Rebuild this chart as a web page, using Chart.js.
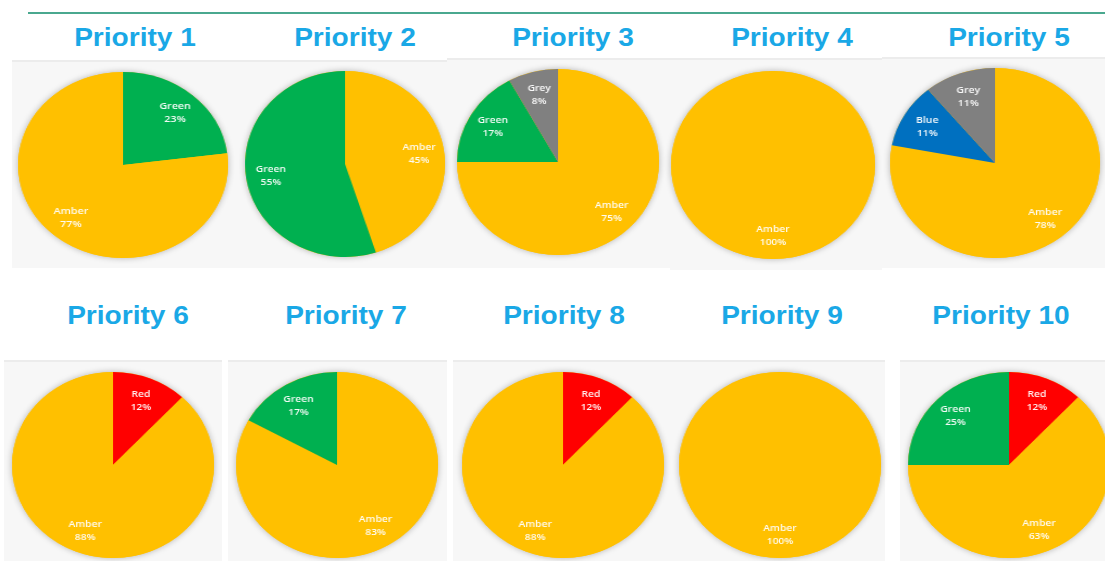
<!DOCTYPE html>
<html>
<head>
<meta charset="utf-8">
<script src="https://cdn.jsdelivr.net/npm/chart.js@4.4.0/dist/chart.umd.min.js"></script>
<style>
    body { margin: 0; background: #ffffff; width: 1105px; height: 561px; overflow: hidden; position: relative; font-family: 'Liberation Sans', Arial, sans-serif; }
    .topLine { position: absolute; left: 28px; top: 12px; width: 1077px; height: 2px; background: #4aa88f; }
    .panel { position: absolute; background: #f7f7f7; border-top: 2px solid #ececec; box-sizing: border-box; }
    .title { position: absolute; width: 200px; margin-left: -100px; text-align: center; color: #1aa8e6; font-weight: bold; font-size: 26px; line-height: 30px; transform: scaleX(1.08); }
    .pieBox { position: absolute; }
</style>
</head>
<body>
<div class="topLine"></div>
<div id="page"></div>

<script>
// chart data
var priorityTitles = ['Priority 1', 'Priority 2', 'Priority 3', 'Priority 4', 'Priority 5',
                      'Priority 6', 'Priority 7', 'Priority 8', 'Priority 9', 'Priority 10'];

var sliceNames = [
    ['Green', 'Amber'],
    ['Amber', 'Green'],
    ['Amber', 'Green', 'Grey'],
    ['Amber'],
    ['Amber', 'Blue', 'Grey'],
    ['Red', 'Amber'],
    ['Amber', 'Green'],
    ['Red', 'Amber'],
    ['Amber'],
    ['Red', 'Amber', 'Green']
];

var sliceValues = [
    [23, 77],
    [45, 55],
    [75, 17, 8],
    [100],
    [78, 11, 11],
    [12, 88],
    [83, 17],
    [12, 88],
    [100],
    [12, 63, 25]
];

var ragColors = {
    'Amber': '#ffc000',
    'Green': '#00b050',
    'Grey': '#808080',
    'Blue': '#0070c0',
    'Red': '#ff0000'
};

// layout: pie centre x, centre y, horizontal radius, vertical radius
var pieLayout = [
    [123, 165, 105, 93], [345, 164, 100, 93], [558, 162, 101, 93], [773, 165, 102, 94], [995, 163, 105, 95],
    [113, 465, 101, 93], [337, 465, 101, 93], [563, 465, 101, 93], [780, 465, 101, 93], [1009, 465, 101, 93]
];
var titleLayout = [
    [135, 22], [355, 22], [573, 22], [792, 22], [1009, 22],
    [128, 300], [346, 300], [564, 300], [782, 300], [1001, 300]
];
var panelLayout = [
    [12, 60, 225, 208], [237, 60, 210, 208], [447, 58, 223, 210], [670, 58, 212, 212], [882, 57, 223, 211],
    [4, 360, 218, 201], [228, 360, 219, 201], [453, 360, 432, 201], [900, 360, 205, 201]
];

var pad = 6;

// soft drop shadow under the whole pie
var pieShadow = {
    id: 'pieShadow',
    beforeDatasetsDraw: function(chart) {
        var arc = chart.getDatasetMeta(0).data[0];
        if (!arc) return;
        var ctx = chart.ctx;
        ctx.save();
        ctx.shadowColor = 'rgba(0,0,0,0.28)';
        ctx.shadowBlur = 6;
        ctx.fillStyle = '#ffc000';
        ctx.beginPath();
        ctx.arc(arc.x, arc.y, arc.outerRadius, 0, Math.PI * 2);
        ctx.fill();
        ctx.restore();
    }
};

// white name + percent labels inside slices
var sliceLabelsPlugin = {
    id: 'sliceLabels',
    afterDatasetsDraw: function(chart) {
        var ctx = chart.ctx;
        var meta = chart.getDatasetMeta(0);
        var ds = chart.data.datasets[0];
        ctx.save();
        ctx.fillStyle = 'rgba(255,255,255,0.95)';
        ctx.font = '600 9.5px "Open Sans", sans-serif';
        ctx.textAlign = 'center';
        ctx.textBaseline = 'middle';
        $each(meta.data, function(i, arc) {
            var p = arc.getProps(['x', 'y', 'startAngle', 'endAngle', 'outerRadius'], true);
            var mid = (p.startAngle + p.endAngle) / 2;
            var dist = p.outerRadius * 0.75;
            var lx = p.x + Math.cos(mid) * dist;
            var ly = p.y + Math.sin(mid) * dist;
            ctx.fillText(chart.data.labels[i], lx, ly - 6);
            ctx.fillText(ds.data[i] + '%', lx, ly + 7);
        });
        ctx.restore();
    }
};

function $each(list, fn) {
    for (var i = 0; i < list.length; i++) fn(i, list[i]);
}

var page = document.getElementById('page');

$each(panelLayout, function(i, p) {
    var d = document.createElement('div');
    d.className = 'panel';
    d.style.left = p[0] + 'px';
    d.style.top = p[1] + 'px';
    d.style.width = p[2] + 'px';
    d.style.height = p[3] + 'px';
    page.appendChild(d);
});

$each(priorityTitles, function(i, t) {
    var d = document.createElement('div');
    d.className = 'title';
    d.style.left = titleLayout[i][0] + 'px';
    d.style.top = titleLayout[i][1] + 'px';
    d.textContent = t;
    page.appendChild(d);
});

function drawPriorityPie(i) {
    var L = pieLayout[i];
    var size = 2 * L[3] + 2 * pad;
    var box = document.createElement('div');
    box.className = 'pieBox';
    box.style.left = (L[0] - size / 2) + 'px';
    box.style.top = (L[1] - size / 2) + 'px';
    box.style.width = size + 'px';
    box.style.height = size + 'px';
    box.style.transform = 'scaleX(' + (L[2] / L[3]) + ')';
    var canvas = document.createElement('canvas');
    box.appendChild(canvas);
    page.appendChild(box);

    var colors = [];
    $each(sliceNames[i], function(k, n) { colors.push(ragColors[n]); });

    new Chart(canvas, {
        type: 'pie',
        data: {
            labels: sliceNames[i],
            datasets: [{
                data: sliceValues[i],
                backgroundColor: colors,
                borderWidth: 0,
                hoverOffset: 0
            }]
        },
        options: {
            responsive: true,
            maintainAspectRatio: false,
            animation: false,
            layout: { padding: pad },
            plugins: {
                legend: { display: false },
                tooltip: { enabled: false }
            }
        },
        plugins: [pieShadow, sliceLabelsPlugin]
    });
}

for (var i = 0; i < priorityTitles.length; i++) {
    drawPriorityPie(i);
}
</script>
</body>
</html>
